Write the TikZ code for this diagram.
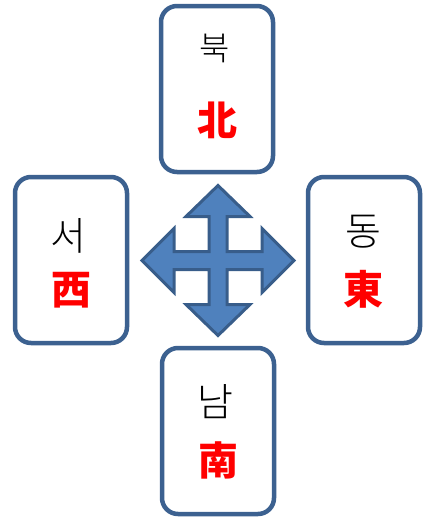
\documentclass[tikz,border=0pt]{standalone}
\usepackage{fontspec}
\newfontfamily\kr{Noto Sans CJK KR Light}
\newfontfamily\krb{Noto Sans CJK KR Black}
\definecolor{boxblue}{HTML}{3C6190}
\definecolor{arrfill}{HTML}{4F81BD}
\definecolor{arrline}{HTML}{385D8A}
\definecolor{hanred}{HTML}{FF0000}
\tikzset{
  card/.style={draw=boxblue, line width=4.5pt, rounded corners=16pt, fill=white,
    minimum width=112pt, minimum height=166pt, inner sep=0pt},
  hangul/.style={font=\kr\fontsize{39}{39}\selectfont, text=black, inner sep=0pt},
  hanja/.style={font=\krb\fontsize{40}{40}\selectfont, text=hanred, inner sep=0pt},
}
\begin{document}
\begin{tikzpicture}[x=1pt,y=-1pt]
\useasboundingbox (0,0) rectangle (430,530);
\node[card] (north) at (217,89) {};
\node[card] (west) at (71,260) {};
\node[card] (east) at (364,260) {};
\node[card] (south) at (218,431) {};
\node[hangul, font=\kr\fontsize{33}{33}\selectfont] (nk) at (215,48) {북};
\node[hanja] (nh) at (217,120) {北};
\node[hangul] (wk) at (68,236) {서};
\node[hanja] (wh) at (71,290) {西};
\node[hangul] (ek) at (363,232) {동};
\node[hanja] (eh) at (363,289) {東};
\node[hangul] (sk) at (215,402) {남};
\node[hanja] (sh) at (218,460) {南};
\draw[fill=arrfill, draw=arrline, line width=3pt, line join=miter, shift={(218,260.5)}]
  (0,-75) -- (32,-44) -- (9,-44) -- (9,-9) -- (44,-9) -- (44,-32) -- (76,0)
  -- (44,32) -- (44,9) -- (9,9) -- (9,44) -- (32,44) -- (0,75)
  -- (-32,44) -- (-9,44) -- (-9,9) -- (-44,9) -- (-44,32) -- (-76,0)
  -- (-44,-32) -- (-44,-9) -- (-9,-9) -- (-9,-44) -- (-32,-44) -- cycle;
\end{tikzpicture}
\end{document}
